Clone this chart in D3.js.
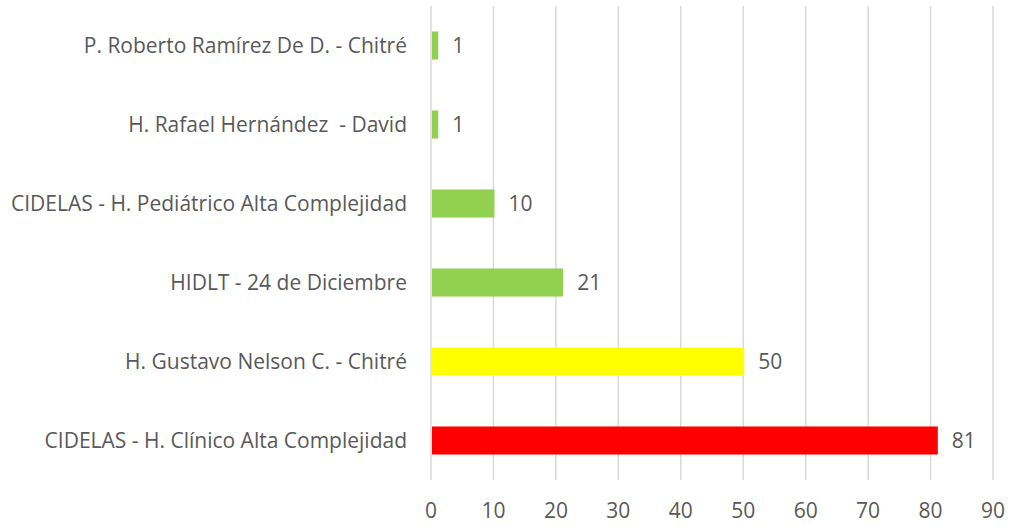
<!DOCTYPE html>
<html>
<head>
<meta charset="utf-8">
<script src="https://cdn.jsdelivr.net/npm/d3@7"></script>
<style>
  body { margin: 0; background: #fff; }
  text { font-family: "Open Sans", Lato, sans-serif; fill: #595959; white-space: pre; }
</style>
</head>
<body>
<div id="chart"></div>
<script>
const categories = [
    'P. Roberto Ramírez De D. - Chitré',
    'H. Rafael Hernández  - David',
    'CIDELAS - H. Pediátrico Alta Complejidad',
    'HIDLT - 24 de Diciembre',
    'H. Gustavo Nelson C. - Chitré',
    'CIDELAS - H. Clínico Alta Complejidad'
];
const values = [1, 1, 10, 21, 50, 81];
const barColors = ['#92D050', '#92D050', '#92D050', '#92D050', '#FFFF00', '#FF0000'];
const xTicks = [0, 10, 20, 30, 40, 50, 60, 70, 80, 90];

const margin = {top: 6, left: 431, right: 19, bottom: 47};
const width = 1012, height = 527;
const fontSize = '21px';

const svg = d3.select('#chart').append('svg')
    .attr('width', width)
    .attr('height', height);

const x = d3.scaleLinear()
    .domain([0, 90])
    .range([margin.left, width - margin.right]);

const y = d3.scaleBand()
    .domain(categories)
    .range([margin.top, height - margin.bottom])
    .paddingInner(0.645)
    .paddingOuter(0.3225);

// grid
svg.append('g').selectAll('line').data(xTicks).join('line')
    .attr('x1', d => x(d)).attr('x2', d => x(d))
    .attr('y1', margin.top).attr('y2', height - margin.bottom)
    .attr('stroke', '#D9D9D9')
    .attr('stroke-width', 1.5);

// bars
svg.append('g').selectAll('rect').data(values).join('rect')
    .attr('x', x(0) + 1)
    .attr('y', (d, i) => y(categories[i]))
    .attr('width', d => x(d) - x(0))
    .attr('height', y.bandwidth())
    .attr('fill', (d, i) => barColors[i]);

// value labels
svg.append('g').selectAll('text').data(values).join('text')
    .attr('x', d => x(d) + 15)
    .attr('y', (d, i) => y(categories[i]) + y.bandwidth() / 2)
    .attr('dy', '0.35em')
    .style('font-size', fontSize)
    .text(d => d);

// category labels
svg.append('g').selectAll('text').data(categories).join('text')
    .attr('x', x(0) - 24)
    .attr('y', d => y(d) + y.bandwidth() / 2)
    .attr('dy', '0.35em')
    .attr('text-anchor', 'end')
    .style('font-size', fontSize)
    .text(d => d);

// x axis labels
svg.append('g').selectAll('text').data(xTicks).join('text')
    .attr('x', d => x(d))
    .attr('y', 511)
    .attr('dy', '0.35em')
    .attr('text-anchor', 'middle')
    .style('font-size', fontSize)
    .text(d => d);
</script>
</body>
</html>
